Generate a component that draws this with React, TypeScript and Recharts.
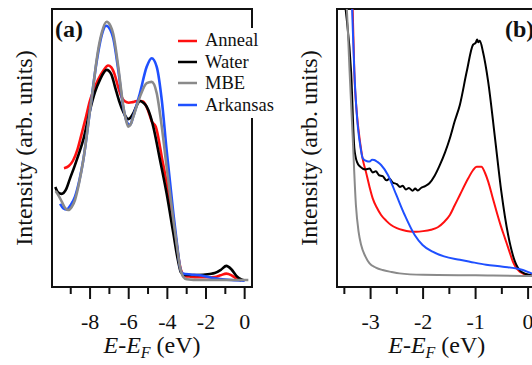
import { LineChart, Line, XAxis, YAxis, ReferenceArea, Legend } from 'recharts';

const FONT = 'Liberation Serif, DejaVu Serif, serif';
const INK = '#111';

// series names + colours (legend order)
const seriesNames = ['Anneal', 'Water', 'MBE', 'Arkansas'];
const seriesColors = ['#ff1010', '#000000', '#8a8a8a', '#1f50ff'];

// panel (a): valence band, [E-EF (eV), intensity]
const annealA = [
  [-9.35, 42.7], [-9.1, 43.5], [-8.88, 45.5], [-8.65, 49.5], [-8.45, 54.7], [-8.2, 61.5], [-8.02, 66.7],
  [-7.8, 71], [-7.59, 74.5], [-7.3, 78], [-7.07, 79.7], [-6.9, 79], [-6.73, 76.5], [-6.55, 72],
  [-6.38, 68.5], [-6.2, 66.8], [-6.0, 66.3], [-5.8, 66.5], [-5.52, 67.0], [-5.26, 66.7], [-5.0, 63.5],
  [-4.8, 59.5], [-4.6, 57.7], [-4.26, 45.7], [-3.93, 33.7], [-3.6, 19.3], [-3.4, 9.5], [-3.3, 6.2],
  [-3.1, 4.0], [-2.8, 3.7], [-2.42, 3.5], [-1.9, 3.5], [-1.55, 3.6], [-1.25, 4.2], [-0.95, 4.8],
  [-0.7, 4.3], [-0.52, 3.5], [-0.3, 2.7], [-0.17, 2.3],
];
const waterA = [
  [-9.8, 36.0], [-9.65, 34.0], [-9.47, 33.5], [-9.25, 35.0], [-9.04, 39.0], [-8.8, 43.5], [-8.6, 47.5],
  [-8.35, 53.0], [-8.0, 63.7], [-7.75, 70.0], [-7.49, 74.5], [-7.14, 78.1], [-6.9, 76.5], [-6.71, 72.0],
  [-6.5, 67.0], [-6.28, 63.0], [-6.02, 60.4], [-5.76, 62.5], [-5.55, 65.8], [-5.42, 66.9], [-5.25, 66.3],
  [-5.07, 64.9], [-4.9, 62.0], [-4.73, 57.7], [-4.38, 45.7], [-4.04, 33.7], [-3.69, 19.3], [-3.45, 9.5],
  [-3.3, 5.3], [-3.1, 4.3], [-2.42, 4.3], [-1.8, 4.7], [-1.55, 5.0], [-1.21, 6.3], [-0.95, 7.6],
  [-0.69, 6.4], [-0.43, 4.0], [-0.2, 2.8], [-0.05, 2.4],
];
const mbeA = [
  [-9.78, 34.5], [-9.6, 32.5], [-9.47, 30.8], [-9.3, 28.5], [-9.13, 27.7], [-8.95, 28.8], [-8.78, 31.3],
  [-8.55, 38.0], [-8.35, 45.7], [-8.0, 63.7], [-7.8, 74], [-7.66, 81.7], [-7.4, 91.3], [-7.14, 95.4],
  [-6.95, 94], [-6.8, 91.0], [-6.54, 79.2], [-6.28, 65.0], [-6.1, 59.0], [-6.02, 57.7], [-5.9, 58.5],
  [-5.76, 61.3], [-5.42, 68.4], [-5.07, 73.3], [-4.81, 73.8], [-4.55, 69.7], [-4.29, 57.7], [-4.04, 43.3],
  [-3.69, 24.1], [-3.45, 12], [-3.35, 7.3], [-3.18, 3.7], [-3.0, 2.8], [-2.3, 2.5], [0.19, 2.5],
];
const arkansasA = [
  [-9.55, 29.9], [-9.38, 28.3], [-9.21, 27.9], [-9.0, 29.5], [-8.78, 32.5], [-8.55, 38.5], [-8.35, 45.7],
  [-8.0, 63.7], [-7.66, 81.0], [-7.4, 90.5], [-7.17, 94.0], [-6.95, 92.5], [-6.8, 89.5], [-6.54, 78.0],
  [-6.28, 64.5], [-6.05, 58.8], [-5.93, 58.3], [-5.76, 61.5], [-5.42, 69.7], [-5.07, 79.2], [-4.81, 82.3],
  [-4.55, 79.2], [-4.29, 67.3], [-4.04, 49.3], [-3.69, 26.5], [-3.45, 12.5], [-3.35, 7.3], [-3.21, 4.9],
  [-2.8, 4.5], [-2.42, 4.3], [-1.55, 3.1], [-0.69, 2.5], [0, 2.3],
];

// panel (b): gap region
const annealB = [
  [-3.36, 110], [-3.34, 99], [-3.31, 77.4], [-3.26, 62], [-3.21, 53.5], [-3.15, 46], [-3.09, 41.5],
  [-3.02, 36], [-2.96, 31.9], [-2.88, 28.5], [-2.8, 25.9], [-2.7, 23.8], [-2.61, 22.3], [-2.5, 21.2],
  [-2.39, 20.5], [-2.25, 20.0], [-2.13, 19.9], [-2.0, 20.1], [-1.85, 20.6], [-1.72, 21.5], [-1.6, 23.4],
  [-1.49, 25.9], [-1.4, 29.3], [-1.3, 33.1], [-1.14, 39.1], [-1.05, 42.0], [-0.98, 43.3], [-0.89, 43.3],
  [-0.82, 41.0], [-0.76, 37.9], [-0.68, 32.5], [-0.6, 27.1], [-0.52, 22.0], [-0.44, 17.5], [-0.36, 13],
  [-0.29, 9.1], [-0.16, 5.5], [0, 4.3], [0.2, 4.0],
];
const waterB = [
  [-3.56, 112], [-3.47, 99], [-3.37, 77], [-3.31, 50], [-3.26, 45], [-3.2, 43.3], [-3.1, 42.3],
  [-3.02, 42.6], [-2.96, 41.2], [-2.9, 41.6], [-2.84, 40.2], [-2.77, 39.9], [-2.7, 38.4], [-2.64, 38.9],
  [-2.58, 37.6], [-2.5, 37.0], [-2.44, 36.0], [-2.39, 36.4], [-2.33, 35.1], [-2.27, 35.6], [-2.2, 34.6],
  [-2.15, 35.4], [-2.1, 34.7], [-2.04, 35.6], [-1.96, 36.3], [-1.88, 37.3], [-1.78, 40.0], [-1.68, 43.9],
  [-1.58, 48.5], [-1.49, 53.5], [-1.4, 59.5], [-1.3, 65.5], [-1.17, 77.4], [-1.05, 87.1], [-1.0, 87.8],
  [-0.97, 89.0], [-0.95, 88.0], [-0.92, 88.6], [-0.86, 84.6], [-0.76, 73.8], [-0.63, 53.5], [-0.51, 34.3],
  [-0.38, 18.7], [-0.25, 9.1], [-0.13, 5.5], [0.03, 4.3], [0.2, 4.0],
];
const mbeB = [
  [-3.5, 110], [-3.45, 99], [-3.4, 77.4], [-3.34, 53.5], [-3.28, 29.5], [-3.23, 20], [-3.18, 15.1],
  [-3.1, 11], [-3.02, 8.5], [-2.9, 7], [-2.77, 6.1], [-2.6, 5.4], [-2.45, 4.9], [-2.0, 4.4], [-1.0, 4.2],
  [0.0, 4.0], [0.2, 4.0],
];
const arkansasB = [
  [-3.37, 110], [-3.35, 99], [-3.31, 77.4], [-3.27, 64], [-3.24, 57.1], [-3.19, 50], [-3.15, 46.3],
  [-3.08, 45.3], [-3.02, 45.1], [-2.97, 45.8], [-2.93, 45.7], [-2.87, 45.0], [-2.8, 43.9], [-2.67, 40.3],
  [-2.51, 33.1], [-2.35, 25.9], [-2.16, 18.7], [-2.01, 15.1], [-1.82, 12.7], [-1.6, 11.0], [-1.3, 9.8],
  [-1.11, 9.1], [-0.8, 8.0], [-0.48, 7.3], [-0.1, 6.1], [0.1, 4.7], [0.2, 4.3],
];

const ticksA = [-9, -8, -7, -6, -5, -4, -3, -2, -1, 0];
const ticksB = [-3.5, -3, -2.5, -2, -1.5, -1, -0.5, 0];
const domainA: [number, number] = [-9.97, 0.38];
const domainB: [number, number] = [-3.64, 0.16];

const toPts = (rows: number[][]) => rows.map(([e, v]) => ({ e, v }));

const panelA = [annealA, waterA, mbeA, arkansasA];
const panelB = [annealB, waterB, mbeB, arkansasB];
// draw order: red, black, blue, gray on top
const drawOrder = [0, 1, 3, 2];

const renderTick = (props: any, isMajor: (v: number) => boolean) => {
  const { x, y, payload } = props;
  const major = isMajor(payload.value);
  return (
    <g>
      <line x1={x} x2={x} y1={y} y2={y + (major ? 12 : 7)} stroke={INK} strokeWidth={2} />
      {major && (
        <text x={x} y={y + 41.5} textAnchor="middle" fontFamily={FONT} fontSize={22} fill={INK}>
          {String(payload.value)}
        </text>
      )}
    </g>
  );
};

const xLabel = (props: any) => {
  const { x, y, width } = props.viewBox;
  return (
    <text x={x + width / 2} y={y + 66} textAnchor="middle" fontFamily={FONT} fontSize={24} fill={INK}>
      <tspan fontStyle="italic">E</tspan>-<tspan fontStyle="italic">E</tspan>
      <tspan fontStyle="italic" fontSize={16} dy={5}>F</tspan>
      <tspan dy={-5}> (eV)</tspan>
    </text>
  );
};

// panel letter + y axis title, placed against the plot frame
const frameLabels = (tag: string, tagDx: number) => (props: any) => {
  const { x, y, height } = props.viewBox;
  const cx = x - 20;
  const cy = y + height / 2;
  return (
    <g>
      <text x={x + tagDx} y={y + 28} fontFamily={FONT} fontSize={24} fontWeight="bold" fill={INK}>
        {tag}
      </text>
      <text x={cx} y={cy} transform={`rotate(-90 ${cx} ${cy})`} textAnchor="middle"
        fontFamily={FONT} fontSize={24} fill={INK}>
        Intensity (arb. units)
      </text>
    </g>
  );
};

const renderLegend = (props: any) => {
  const items = [...(props.payload || [])].sort(
    (a: any, b: any) => seriesNames.indexOf(a.value) - seriesNames.indexOf(b.value)
  );
  return (
    <div style={{ background: '#fff', padding: '2px 4px 2px 6px' }}>
      {items.map((it: any) => (
        <div key={it.value} style={{ display: 'flex', alignItems: 'center', height: 21.4 }}>
          <svg width={19} height={4}>
            <line x1={0} x2={19} y1={2} y2={2} stroke={it.color} strokeWidth={2.5} />
          </svg>
          <span style={{ marginLeft: 8, fontFamily: FONT, fontSize: 18.5, color: INK, lineHeight: 1 }}>
            {it.value}
          </span>
        </div>
      ))}
    </div>
  );
};

function Panel({ data, domain, ticks, isMajor, width, margin, lineWidth, tag, tagDx, legend }: any) {
  return (
    <LineChart width={width} height={365} margin={margin}>
      <XAxis dataKey="e" type="number" domain={domain} ticks={ticks} interval={0}
        allowDataOverflow axisLine={false} tickLine={false} tickSize={0} tickMargin={0}
        height={78} tick={(p: any) => renderTick(p, isMajor)} label={xLabel} />
      <YAxis domain={[0, 100]} allowDataOverflow width={0} tick={false} axisLine={false}
        tickLine={false} />
      <ReferenceArea x1={domain[0]} x2={domain[1]} y1={0} y2={100} fill="none" fillOpacity={0}
        stroke={INK} strokeWidth={2} label={frameLabels(tag, tagDx)} />
      {drawOrder.map((i) => (
        <Line key={seriesNames[i]} data={toPts(data[i])} dataKey="v" name={seriesNames[i]}
          type="monotone" stroke={seriesColors[i]} strokeWidth={lineWidth} dot={false}
          activeDot={false} isAnimationActive={false} />
      ))}
      {legend && (
        <Legend layout="horizontal" align="center" verticalAlign="middle" content={renderLegend}
          wrapperStyle={{ left: 172, top: 28, width: 'auto', height: 'auto' }} />
      )}
    </LineChart>
  );
}

export default function App() {
  return (
    <div style={{ position: 'absolute', left: 0, top: 0, width: 532, height: 365, overflow: 'hidden', background: '#fff' }}>
      <div style={{ position: 'absolute', left: 0, top: 0 }}>
        <Panel data={panelA} domain={domainA} ticks={ticksA} isMajor={(v: number) => v % 2 === 0}
          width={290} margin={{ top: 9, right: 38, bottom: 0, left: 52 }} lineWidth={2.6}
          tag="(a)" tagDx={3} legend />
      </div>
      <div style={{ position: 'absolute', left: 290, top: 0 }}>
        <Panel data={panelB} domain={domainB} ticks={ticksB} isMajor={(v: number) => Number.isInteger(v)}
          width={290} margin={{ top: 9, right: 43.5, bottom: 0, left: 47 }} lineWidth={2}
          tag="(b)" tagDx={168} legend={false} />
      </div>
    </div>
  );
}
